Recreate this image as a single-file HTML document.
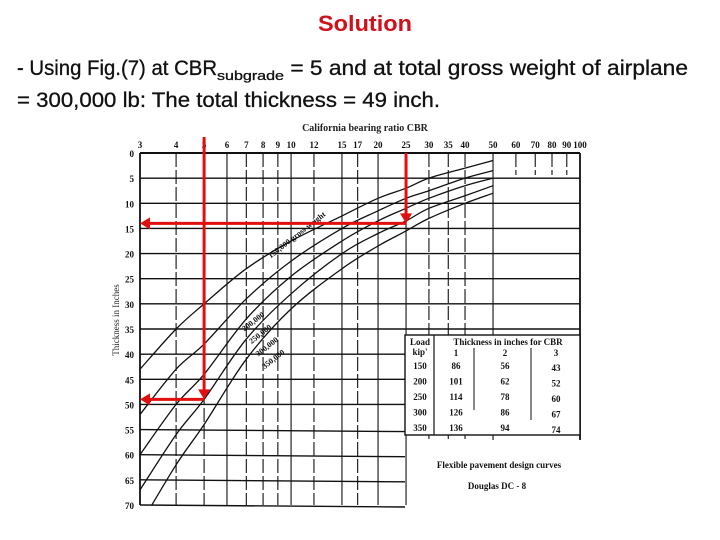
<!DOCTYPE html>
<html><head><meta charset="utf-8"><style>
html,body{margin:0;padding:0;background:#fff;width:720px;height:540px;overflow:hidden}
svg{display:block;font-family:"Liberation Sans",sans-serif}
</style></head><body>
<svg id="chart" width="720" height="540" viewBox="0 0 720 540" xmlns="http://www.w3.org/2000/svg">
<defs><clipPath id="pc"><rect x="140" y="153" width="440" height="352"/></clipPath></defs>
<text x="318" y="31" font-size="22" font-weight="bold" fill="#d0101a" textLength="94" lengthAdjust="spacingAndGlyphs">Solution</text>
<text x="17" y="75" font-size="21" fill="#111" stroke="#111" stroke-width="0.3"><tspan textLength="200" lengthAdjust="spacingAndGlyphs">- Using Fig.(7) at CBR</tspan><tspan font-size="13" dy="5" textLength="67" lengthAdjust="spacingAndGlyphs">subgrade</tspan><tspan dy="-5" textLength="404" lengthAdjust="spacingAndGlyphs"> = 5 and at total gross weight of airplane</tspan></text>
<text x="17" y="107" font-size="21" fill="#111" stroke="#111" stroke-width="0.3" textLength="423" lengthAdjust="spacingAndGlyphs">= 300,000 lb: The total thickness = 49 inch.</text>
<g id="plot"></g>
</svg>
<script>
const cbrTicks=[3,4,5,6,7,8,9,10,12,15,17,20,25,30,35,40,50,60,70,80,90,100];
const thickTicks=[0,5,10,15,20,25,30,35,40,45,50,55,60,65,70];
const curveCBR=[3,4,5,7,10,15,20,25,30,40,50];
const load150=[43,35,30,23,17.5,12.5,9,7,5,3,1.5];
const load200=[52,43,38,29,21.5,15,11.5,9,7.5,5,3.5];
const load250=[60,50,44,33,24.5,17.5,13.5,11,9,6.5,5];
const load300=[67,56,49,37,28,20,16,13.5,11,8.5,6.5];
const load350=[74,62,54,41,31,23,18.5,15.5,13,10,8];
const curveLabels=["150,000 gross weight","200,000","250,000","300,000","350,000"];
const tableLoads=["150","200","250","300","350"];
const tableCBR1=["86","101","114","126","136"];
const tableCBR2=["56","62","78","86","94"];
const tableCBR3=["43","52","60","67","74"];
const answerCBR=5, answerThick=49, exampleCBR=25, exampleThick=14;

const X0=140,X1=580,Y0=153,Y1=505;
const xs=v=>X0+(X1-X0)*Math.log(v/3)/Math.log(100/3);
const ys=v=>Y0+(Y1-Y0)*v/70;
const g=document.getElementById('plot');
const NS='http://www.w3.org/2000/svg';
function mk(tag,attrs,parent){const e=document.createElementNS(NS,tag);for(const k in attrs)e.setAttribute(k,attrs[k]);(parent||g).appendChild(e);return e;}

thickTicks.forEach(t=>{
 const right=t<=35?X1:405;
 const l=mk('line',{x1:X0,x2:right,y1:ys(t),y2:ys(t)+(t>50?2:0),stroke:'#111','stroke-width':t===0?2:1.4});
 
 
 const tx=mk('text',{x:X0-6,y:ys(t)+4,'font-size':9,'font-weight':'bold','text-anchor':'end',fill:'#111','font-family':'Liberation Serif'});
 tx.textContent=t;
 
 
});
cbrTicks.forEach(c=>{
 const x=xs(c);
 const bottom=c<=25?Y1:(c<=50?440:(c===100?440:175));
 const solid=(c===3||c===100||c===50||c===10||c===20||c===25||c===6||c===15);
 const l=mk('line',{x1:x,x2:x,y1:Y0,y2:bottom,stroke:'#111','stroke-width':(c===3||c===100)?1.8:1.1,'stroke-dasharray':solid?'none':'14,3'});
 
 
 const tx=mk('text',{x:x,y:Y0-5,'font-size':9,'font-weight':'bold','text-anchor':'middle',fill:'#111','font-family':'Liberation Serif'});
 tx.textContent=c;
 
 
});
const xt=mk('text',{x:365,y:131,'font-size':10,'font-weight':'bold','text-anchor':'middle',fill:'#222','font-family':'Liberation Serif'});
xt.textContent='California bearing ratio   CBR';


const yt=mk('text',{x:0,y:0,'font-size':9,'text-anchor':'middle',fill:'#222','font-family':'Liberation Serif',transform:'translate(119,320) rotate(-90)'});
yt.textContent='Thickness in Inches';



function smooth(pts){
 let d='M'+pts[0][0].toFixed(1)+','+pts[0][1].toFixed(1);
 for(let i=0;i<pts.length-1;i++){
  const p0=pts[Math.max(0,i-1)],p1=pts[i],p2=pts[i+1],p3=pts[Math.min(pts.length-1,i+2)];
  const c1=[p1[0]+(p2[0]-p0[0])/6,p1[1]+(p2[1]-p0[1])/6],c2=[p2[0]-(p3[0]-p1[0])/6,p2[1]-(p3[1]-p1[1])/6];
  d+=` C${c1[0].toFixed(1)},${c1[1].toFixed(1)} ${c2[0].toFixed(1)},${c2[1].toFixed(1)} ${p2[0].toFixed(1)},${p2[1].toFixed(1)}`;
 }
 return d;
}
[load150,load200,load250,load300,load350].forEach((arr,i)=>{
 const pts=arr.map((v,j)=>[xs(curveCBR[j]),ys(v)]);
 const p=mk('path',{d:smooth(pts),fill:'none',stroke:'#111','stroke-width':1.3,'clip-path':'url(#pc)'});
 
 
 const lx=xs(i===0?8.5:6.5+i*0.4), ly=ys(i===0?21:33+i*2.5);
 const t=mk('text',{x:lx,y:ly,'font-size':8,'font-weight':'bold',fill:'#111','font-family':'Liberation Serif',transform:`rotate(-38 ${lx} ${ly})`});
 t.textContent=curveLabels[i];
 
 
});

const tb=mk('g',{});


mk('rect',{x:405,y:335,width:175,height:100,fill:'#fff',stroke:'#111','stroke-width':1.4},tb);
mk('line',{x1:434,x2:434,y1:335,y2:435,stroke:'#111','stroke-width':1.2},tb);
mk('line',{x1:474,x2:474,y1:348,y2:410,stroke:'#111','stroke-width':1},tb);
mk('line',{x1:531,x2:531,y1:348,y2:420,stroke:'#111','stroke-width':1},tb);
function tt(x,y,s,anchor){const t=mk('text',{x:x,y:y,'font-size':9,'font-weight':'bold','text-anchor':anchor||'middle',fill:'#111','font-family':'Liberation Serif'},tb);t.textContent=s;return t;}
tt(420,345,'Load');tt(420,355,"kip'");tt(508,345,'Thickness in inches for CBR');
tt(456,356,'1');tt(505,356,'2');tt(556,356,'3');
tableLoads.forEach((l,i)=>{const y=369+i*15.5;tt(420,y,l);tt(456,y,tableCBR1[i]);tt(505,y,tableCBR2[i]);tt(556,y+2,tableCBR3[i]);});
const c1=mk('text',{x:499,y:468,'font-size':9,'font-weight':'bold','text-anchor':'middle',fill:'#111','font-family':'Liberation Serif'});
c1.textContent='Flexible pavement design curves';


const c2=mk('text',{x:497,y:489,'font-size':9,'font-weight':'bold','text-anchor':'middle',fill:'#111','font-family':'Liberation Serif'});
c2.textContent='Douglas DC - 8';



function arrow(cbr,th,top,name){
 const x=xs(cbr),y=ys(th),r='#e01010';
 const a=mk('g',{});
 
 
 mk('line',{x1:x,x2:x,y1:top,y2:y-8,stroke:r,'stroke-width':3},a);
 mk('polygon',{points:`${x-6},${y-10} ${x+6},${y-10} ${x},${y}`,fill:r},a);
 mk('line',{x1:x,x2:X0+8,y1:y,y2:y,stroke:r,'stroke-width':3},a);
 mk('polygon',{points:`${X0+10},${y-6} ${X0+10},${y+6} ${X0},${y}`,fill:r},a);
}
arrow(answerCBR,answerThick,137,'answer-arrow');
arrow(exampleCBR,exampleThick,Y0,'example-arrow');
</script>
</body></html>
